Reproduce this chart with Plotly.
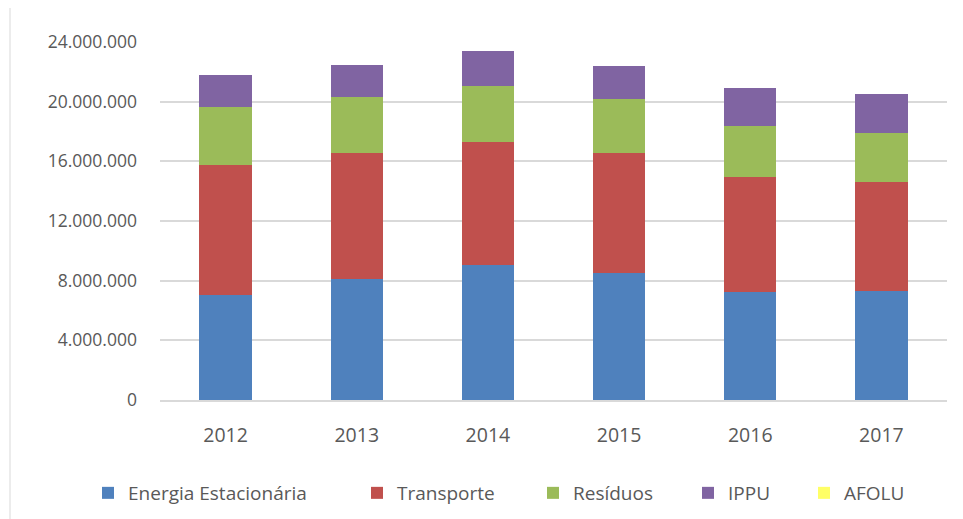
import plotly.graph_objects as go

years = ["2012", "2013", "2014", "2015", "2016", "2017"]

energia = [7040000, 8110000, 9070000, 8530000, 7240000, 7290000]
transporte = [8710000, 8420000, 8240000, 8050000, 7690000, 7340000]
residuos = [3870000, 3760000, 3760000, 3620000, 3460000, 3240000]
ippu = [2180000, 2140000, 2320000, 2160000, 2540000, 2620000]
afolu = [0, 0, 0, 0, 0, 0]

series = [
    ("Energia Estacionária", energia, "#4F81BD"),
    ("Transporte", transporte, "#C0504D"),
    ("Resíduos", residuos, "#9BBB59"),
    ("IPPU", ippu, "#8064A2"),
    ("AFOLU", afolu, "#FFFF66"),
]

tick_vals = [0, 4000000, 8000000, 12000000, 16000000, 20000000, 24000000]
tick_text = ["0", "4.000.000", "8.000.000", "12.000.000", "16.000.000", "20.000.000", "24.000.000"]

# page body adds 8px offset, so margins are shifted accordingly
L, T, PW, PH = 152, 34, 787, 358

# one legend per series so the spacing can follow the original
legend_px = [88, 357, 533, 688, 804]

fig = go.Figure()
layout_legends = {}
for i, (name, vals, color) in enumerate(series):
    key = "legend%d" % (i + 2)
    fig.add_trace(go.Bar(x=years, y=vals, name=name, marker_color=color,
                         marker_line_width=0, legend=key, showlegend=True))
    layout_legends[key] = dict(
        orientation="h", x=(legend_px[i] - 160) / PW, xanchor="left",
        y=(400 - 493) / PH, yanchor="middle",
        font=dict(size=19), bgcolor="rgba(0,0,0,0)",
    )

fig.update_layout(
    barmode="stack",
    bargap=0.6,
    width=963, height=519,
    margin=dict(l=L, r=963 - L - PW, t=T, b=519 - T - PH, autoexpand=False),
    paper_bgcolor="white", plot_bgcolor="white",
    font=dict(family="Open Sans", size=18, color="#595959"),
    **layout_legends,
)
fig.add_shape(type="line", xref="paper", yref="paper",
              x0=(10 - 160) / PW, x1=(10 - 160) / PW,
              y0=(400 - 519) / PH, y1=(400 - 0) / PH,
              line=dict(color="#E6E6E6", width=1.5))
fig.update_yaxes(range=[0, 24000000], tickvals=tick_vals, ticktext=tick_text,
                 showgrid=True, gridcolor="#D9D9D9", gridwidth=1.5,
                 zeroline=False, ticklabelstandoff=22, showline=False,
                 tickfont=dict(size=17.5))
fig.update_xaxes(showline=True, linecolor="#D9D9D9", linewidth=1.5,
                 ticklabelstandoff=17, tickfont=dict(size=19.5))

fig.write_html("out.html")
